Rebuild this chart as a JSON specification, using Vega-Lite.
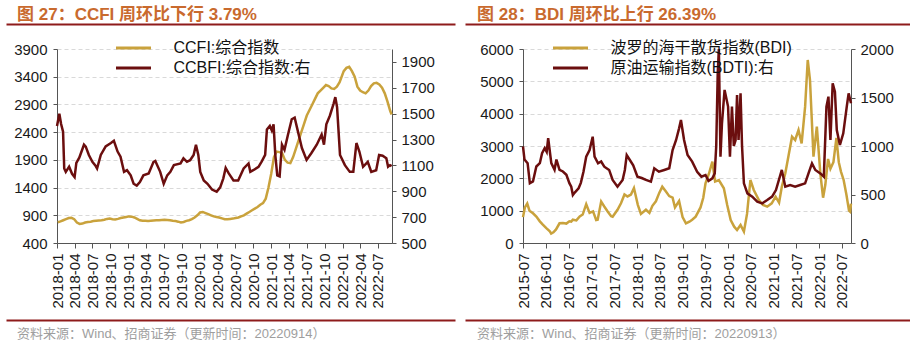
{
  "$schema": "https://vega.github.io/schema/vega-lite/v6.json",
  "background": "white",
  "padding": {"left": 6, "top": 6, "right": 0, "bottom": 0},
  "spacing": -41,
  "resolve": {"scale": {"color": "independent"}, "legend": {"color": "independent"}},
  "hconcat": [
    {
      "spacing": 8,
      "resolve": {"scale": {"color": "independent", "x": "independent"}, "legend": {"color": "independent"}},
      "vconcat": [
        {
          "width": 398, "height": 8,
          "title": {"text": "图 27：CCFI 周环比下行 3.79%", "anchor": "start", "frame": "bounds", "dx": -40, "fontSize": 17, "fontWeight": "bold", "color": "#C96A2E", "font": "Liberation Sans, Noto Sans CJK SC", "offset": 0},
          "data": {"values": [{"a": 0.5}]},
          "mark": {"type": "point", "opacity": 0},
          "encoding": {"x": {"field": "a", "type": "quantitative", "scale": {"domain": [0, 1], "range": [-51, 398]}, "axis": {"orient": "top", "domainColor": "#8E1B1B", "domainWidth": 2, "ticks": false, "labels": false, "grid": false, "title": null}}}
        },
        {
          "width": 335, "height": 194,
          "encoding": {
            "x": {"field": "d", "type": "temporal",
              "scale": {"type": "utc", "nice": false, "domain": [{"year": 2018, "month": 1, "date": 1, "utc": true}, {"year": 2022, "month": 9, "date": 11, "utc": true}]},
              "axis": {"format": "%Y-%m", "labelAngle": 270, "tickCount": {"interval": "month", "step": 3}, "grid": false, "title": null, "labelPadding": 5, "labelOverlap": false, "labelFlush": false}}
          },
          "layer": [
            {
              "data": {"values": [
                {"d":"2018-01-05","v":775},{"d":"2018-01-19","v":790},{"d":"2018-02-02","v":810},{"d":"2018-02-16","v":830},{"d":"2018-03-02","v":850},{"d":"2018-03-16","v":855},{"d":"2018-03-30","v":830},{"d":"2018-04-13","v":770},{"d":"2018-04-27","v":745},{"d":"2018-05-11","v":750},{"d":"2018-05-25","v":770},{"d":"2018-06-08","v":780},{"d":"2018-06-22","v":785},{"d":"2018-07-06","v":795},{"d":"2018-07-20","v":800},{"d":"2018-08-03","v":805},{"d":"2018-08-17","v":810},{"d":"2018-08-31","v":820},{"d":"2018-09-14","v":835},{"d":"2018-09-28","v":840},{"d":"2018-10-12","v":830},{"d":"2018-10-26","v":825},{"d":"2018-11-09","v":835},{"d":"2018-11-23","v":850},{"d":"2018-12-07","v":860},{"d":"2018-12-21","v":870},
                {"d":"2019-01-04","v":880},{"d":"2019-01-18","v":875},{"d":"2019-02-01","v":860},{"d":"2019-02-15","v":835},{"d":"2019-03-01","v":810},{"d":"2019-03-15","v":800},{"d":"2019-03-29","v":800},{"d":"2019-04-12","v":795},{"d":"2019-04-26","v":800},{"d":"2019-05-10","v":805},{"d":"2019-05-24","v":810},{"d":"2019-06-07","v":810},{"d":"2019-06-21","v":815},{"d":"2019-07-05","v":820},{"d":"2019-07-19","v":815},{"d":"2019-08-02","v":810},{"d":"2019-08-16","v":800},{"d":"2019-08-30","v":795},{"d":"2019-09-13","v":785},{"d":"2019-09-27","v":770},{"d":"2019-10-11","v":780},{"d":"2019-10-25","v":800},{"d":"2019-11-08","v":810},{"d":"2019-11-22","v":830},{"d":"2019-12-06","v":860},{"d":"2019-12-20","v":900},
                {"d":"2020-01-03","v":950},{"d":"2020-01-17","v":960},{"d":"2020-01-31","v":940},{"d":"2020-02-14","v":920},{"d":"2020-02-28","v":900},{"d":"2020-03-13","v":880},{"d":"2020-03-27","v":870},{"d":"2020-04-10","v":860},{"d":"2020-04-24","v":845},{"d":"2020-05-08","v":830},{"d":"2020-05-22","v":830},{"d":"2020-06-05","v":835},{"d":"2020-06-19","v":840},{"d":"2020-07-03","v":850},{"d":"2020-07-17","v":860},{"d":"2020-07-31","v":880},{"d":"2020-08-14","v":900},{"d":"2020-08-28","v":930},{"d":"2020-09-11","v":960},{"d":"2020-09-25","v":990},{"d":"2020-10-09","v":1020},{"d":"2020-10-23","v":1050},{"d":"2020-11-06","v":1090},{"d":"2020-11-20","v":1120},{"d":"2020-12-04","v":1200},{"d":"2020-12-18","v":1400},
                {"d":"2021-01-01","v":1650},{"d":"2021-01-15","v":1950},{"d":"2021-01-29","v":2050},{"d":"2021-02-12","v":2040},{"d":"2021-02-26","v":2020},{"d":"2021-03-12","v":1900},{"d":"2021-03-26","v":1850},{"d":"2021-04-09","v":1840},{"d":"2021-04-23","v":1950},{"d":"2021-05-07","v":2100},{"d":"2021-05-21","v":2250},{"d":"2021-06-04","v":2400},{"d":"2021-06-18","v":2550},{"d":"2021-07-02","v":2700},{"d":"2021-07-16","v":2800},{"d":"2021-07-30","v":2900},{"d":"2021-08-13","v":3000},{"d":"2021-08-27","v":3100},{"d":"2021-09-10","v":3150},{"d":"2021-09-24","v":3200},{"d":"2021-10-08","v":3250},{"d":"2021-10-22","v":3230},{"d":"2021-11-05","v":3190},{"d":"2021-11-19","v":3180},{"d":"2021-12-03","v":3220},{"d":"2021-12-17","v":3300},
                {"d":"2022-01-07","v":3500},{"d":"2022-01-21","v":3560},{"d":"2022-02-04","v":3580},{"d":"2022-02-18","v":3500},{"d":"2022-03-04","v":3400},{"d":"2022-03-18","v":3220},{"d":"2022-04-01","v":3150},{"d":"2022-04-15","v":3120},{"d":"2022-04-29","v":3100},{"d":"2022-05-13","v":3150},{"d":"2022-05-27","v":3230},{"d":"2022-06-10","v":3280},{"d":"2022-06-24","v":3290},{"d":"2022-07-08","v":3260},{"d":"2022-07-22","v":3200},{"d":"2022-08-05","v":3100},{"d":"2022-08-19","v":2950},{"d":"2022-09-02","v":2780},{"d":"2022-09-09","v":2720}
              ]},
              "mark": {"type": "line", "strokeWidth": 2.5},
              "encoding": {
                "y": {"field": "v", "type": "quantitative", "scale": {"domain": [400, 3900], "nice": false, "zero": false},
                  "axis": {"orient": "left", "format": "d", "values": [400, 900, 1400, 1900, 2400, 2900, 3400, 3900], "grid": true, "title": null, "minExtent": 51, "tickSize": 4, "labelPadding": 6}},
                "color": {"datum": "CCFI:综合指数", "type": "nominal",
                  "scale": {"domain": ["CCFI:综合指数", "CCBFI:综合指数:右"], "range": ["#C9A23C", "#6B0E0E"]},
                  "legend": {"orient": "none", "legendX": 56, "legendY": -9, "direction": "vertical", "title": null, "labelFontSize": 16, "labelFont": "Liberation Sans, Noto Sans CJK SC", "labelColor": "#111", "labelLimit": 300, "symbolType": "M-3.5,0H3.5", "symbolSize": 100, "symbolStrokeWidth": 3, "symbolOffset": 12.5, "labelOffset": 32, "rowPadding": 4, "padding": 0}}
              }
            },
            {
              "data": {"values": [
                {"d":"2018-01-01","v":1405},{"d":"2018-01-13","v":1500},{"d":"2018-01-22","v":1420},{"d":"2018-02-01","v":1360},{"d":"2018-02-07","v":1076},{"d":"2018-02-15","v":1050},{"d":"2018-03-04","v":1090},{"d":"2018-03-19","v":1035},{"d":"2018-04-01","v":1010},{"d":"2018-04-10","v":1120},{"d":"2018-04-25","v":1160},{"d":"2018-05-19","v":1260},{"d":"2018-05-28","v":1245},{"d":"2018-06-13","v":1180},{"d":"2018-07-01","v":1128},{"d":"2018-07-16","v":1100},{"d":"2018-07-25","v":1076},{"d":"2018-08-13","v":1181},{"d":"2018-09-07","v":1247},{"d":"2018-10-04","v":1273},{"d":"2018-10-19","v":1290},{"d":"2018-11-07","v":1207},{"d":"2018-11-22","v":1168},{"d":"2018-12-10","v":1050},{"d":"2018-12-25","v":1063},
                {"d":"2019-01-13","v":1023},{"d":"2019-01-28","v":958},{"d":"2019-02-13","v":944},{"d":"2019-03-01","v":971},{"d":"2019-03-19","v":1023},{"d":"2019-04-15","v":1037},{"d":"2019-05-10","v":1128},{"d":"2019-05-19","v":1135},{"d":"2019-06-13","v":1050},{"d":"2019-07-01","v":958},{"d":"2019-07-19","v":1023},{"d":"2019-08-04","v":1050},{"d":"2019-08-22","v":1102},{"d":"2019-09-25","v":1115},{"d":"2019-10-10","v":1155},{"d":"2019-10-28","v":1128},{"d":"2019-11-13","v":1140},{"d":"2019-12-01","v":1181},{"d":"2019-12-13","v":1260},{"d":"2019-12-25","v":1181},
                {"d":"2020-01-04","v":1050},{"d":"2020-01-22","v":984},{"d":"2020-02-10","v":958},{"d":"2020-03-04","v":913},{"d":"2020-03-28","v":897},{"d":"2020-04-15","v":930},{"d":"2020-05-01","v":1000},{"d":"2020-05-13","v":1080},{"d":"2020-05-28","v":1040},{"d":"2020-06-22","v":984},{"d":"2020-07-16","v":984},{"d":"2020-08-13","v":1076},{"d":"2020-09-07","v":1115},{"d":"2020-09-16","v":1050},{"d":"2020-10-01","v":1063},{"d":"2020-10-28","v":1089},{"d":"2020-11-13","v":1130},{"d":"2020-12-01","v":1181},{"d":"2020-12-10","v":1378},{"d":"2020-12-25","v":1405},
                {"d":"2021-01-04","v":1370},{"d":"2021-01-13","v":1418},{"d":"2021-01-22","v":1180},{"d":"2021-02-01","v":1023},{"d":"2021-02-13","v":1015},{"d":"2021-02-25","v":1260},{"d":"2021-03-10","v":1220},{"d":"2021-03-28","v":1339},{"d":"2021-04-16","v":1457},{"d":"2021-05-01","v":1470},{"d":"2021-05-13","v":1392},{"d":"2021-06-07","v":1234},{"d":"2021-07-01","v":1142},{"d":"2021-07-25","v":1194},{"d":"2021-08-22","v":1260},{"d":"2021-09-16","v":1339},{"d":"2021-09-28","v":1260},{"d":"2021-10-10","v":1418},{"d":"2021-10-28","v":1484},{"d":"2021-11-16","v":1576},{"d":"2021-11-25","v":1628},{"d":"2021-12-04","v":1550},{"d":"2021-12-19","v":1181},
                {"d":"2022-01-13","v":1102},{"d":"2022-02-07","v":1050},{"d":"2022-02-25","v":1050},{"d":"2022-03-13","v":1273},{"d":"2022-03-28","v":1207},{"d":"2022-04-16","v":1089},{"d":"2022-05-10","v":1128},{"d":"2022-05-28","v":1050},{"d":"2022-06-22","v":1063},{"d":"2022-07-07","v":1181},{"d":"2022-07-25","v":1175},{"d":"2022-08-13","v":1155},{"d":"2022-08-22","v":1090},{"d":"2022-09-01","v":1102},{"d":"2022-09-09","v":1095}
              ]},
              "mark": {"type": "line", "strokeWidth": 2.5},
              "encoding": {
                "y": {"field": "v", "type": "quantitative", "scale": {"domain": [500, 2000], "nice": false, "zero": false},
                  "axis": {"orient": "right", "format": "d", "values": [500, 700, 900, 1100, 1300, 1500, 1700, 1900], "grid": false, "title": null, "tickSize": 4, "labelPadding": 5}},
                "color": {"datum": "CCBFI:综合指数:右", "type": "nominal"}
              }
            }
          ],
          "resolve": {"scale": {"y": "independent"}}
        },
        {
          "width": 398, "height": 1,
          "title": {"text": "资料来源：Wind、招商证券（更新时间：20220914）", "orient": "bottom", "anchor": "start", "frame": "bounds", "dx": -40, "fontSize": 13, "fontWeight": "normal", "color": "#9E9E9E", "font": "Liberation Sans, Noto Sans CJK SC", "offset": 5},
          "data": {"values": [{"a": 0.5}]},
          "mark": {"type": "point", "opacity": 0},
          "encoding": {"x": {"field": "a", "type": "quantitative", "scale": {"domain": [0, 1], "range": [-51, 398]}, "axis": {"orient": "top", "domainColor": "#8E1B1B", "domainWidth": 2, "ticks": false, "labels": false, "grid": false, "title": null}}}
        }
      ]
    },
    {
      "spacing": 8,
      "resolve": {"scale": {"color": "independent", "x": "independent"}, "legend": {"color": "independent"}},
      "vconcat": [
        {
          "width": 387, "height": 8,
          "title": {"text": "图 28：BDI 周环比上行 26.39%", "anchor": "start", "frame": "bounds", "dx": -46, "fontSize": 17, "fontWeight": "bold", "color": "#C96A2E", "font": "Liberation Sans, Noto Sans CJK SC", "offset": 0},
          "data": {"values": [{"a": 0.5}]},
          "mark": {"type": "point", "opacity": 0},
          "encoding": {"x": {"field": "a", "type": "quantitative", "scale": {"domain": [0, 1], "range": [-58, 387]}, "axis": {"orient": "top", "domainColor": "#8E1B1B", "domainWidth": 2, "ticks": false, "labels": false, "grid": false, "title": null}}}
        },
        {
          "width": 328, "height": 194,
          "encoding": {
            "x": {"field": "d", "type": "temporal",
              "scale": {"type": "utc", "nice": false, "domain": [{"year": 2015, "month": 7, "date": 1, "utc": true}, {"year": 2022, "month": 9, "date": 13, "utc": true}]},
              "axis": {"format": "%Y-%m", "labelAngle": 270, "tickCount": {"interval": "month", "step": 6}, "grid": false, "title": null, "labelPadding": 5, "labelOverlap": false, "labelFlush": false}}
          },
          "layer": [
            {
              "data": {"values": [
                {"d":"2015-07-01","v":800},{"d":"2015-07-16","v":1100},{"d":"2015-08-04","v":1220},{"d":"2015-08-22","v":1000},{"d":"2015-09-19","v":920},{"d":"2015-10-16","v":820},{"d":"2015-11-13","v":670},{"d":"2015-12-07","v":570},{"d":"2016-01-04","v":460},{"d":"2016-02-01","v":360},{"d":"2016-02-12","v":290},{"d":"2016-03-01","v":330},{"d":"2016-03-22","v":420},{"d":"2016-04-19","v":610},{"d":"2016-05-16","v":620},{"d":"2016-06-13","v":600},{"d":"2016-07-07","v":670},{"d":"2016-07-22","v":660},{"d":"2016-08-04","v":720},{"d":"2016-09-01","v":700},{"d":"2016-09-28","v":820},{"d":"2016-10-22","v":880},{"d":"2016-11-19","v":1200},{"d":"2016-12-16","v":930},
                {"d":"2017-01-13","v":977},{"d":"2017-02-07","v":711},{"d":"2017-02-19","v":720},{"d":"2017-03-19","v":1280},{"d":"2017-04-13","v":1130},{"d":"2017-05-10","v":977},{"d":"2017-06-07","v":830},{"d":"2017-06-19","v":814},{"d":"2017-07-28","v":1029},{"d":"2017-08-25","v":1230},{"d":"2017-09-22","v":1500},{"d":"2017-10-16","v":1440},{"d":"2017-11-13","v":1500},{"d":"2017-12-07","v":1700},
                {"d":"2018-01-07","v":1180},{"d":"2018-02-01","v":900},{"d":"2018-03-13","v":1029},{"d":"2018-04-10","v":930},{"d":"2018-05-04","v":1150},{"d":"2018-06-01","v":1290},{"d":"2018-06-28","v":1550},{"d":"2018-07-22","v":1742},{"d":"2018-08-19","v":1600},{"d":"2018-09-16","v":1450},{"d":"2018-10-13","v":1400},{"d":"2018-11-01","v":1100},{"d":"2018-12-04","v":1300},
                {"d":"2019-01-01","v":800},{"d":"2019-01-28","v":610},{"d":"2019-02-25","v":660},{"d":"2019-03-19","v":720},{"d":"2019-04-16","v":814},{"d":"2019-05-25","v":1100},{"d":"2019-06-16","v":1400},{"d":"2019-07-04","v":1845},{"d":"2019-08-01","v":2150},{"d":"2019-08-28","v":2514},{"d":"2019-09-19","v":1900},{"d":"2019-10-19","v":1948},{"d":"2019-11-28","v":1691},{"d":"2019-12-25","v":1175},
                {"d":"2020-01-22","v":711},{"d":"2020-02-19","v":505},{"d":"2020-03-13","v":402},{"d":"2020-04-10","v":557},{"d":"2020-05-07","v":350},{"d":"2020-06-01","v":900},{"d":"2020-06-28","v":1948},{"d":"2020-07-25","v":1639},{"d":"2020-09-04","v":1330},{"d":"2020-10-07","v":1175},{"d":"2020-11-10","v":1123},{"d":"2020-12-16","v":1227},
                {"d":"2021-01-16","v":1433},{"d":"2021-02-13","v":1250},{"d":"2021-03-07","v":1742},{"d":"2021-04-04","v":2155},{"d":"2021-05-01","v":2722},{"d":"2021-05-28","v":3288},{"d":"2021-06-22","v":3185},{"d":"2021-07-19","v":3494},{"d":"2021-08-13","v":3082},{"d":"2021-09-10","v":4216},{"d":"2021-10-01","v":5660},{"d":"2021-10-19","v":5041},{"d":"2021-11-16","v":2670},{"d":"2021-12-13","v":3597},
                {"d":"2022-01-10","v":2155},{"d":"2022-02-01","v":1400},{"d":"2022-02-19","v":1800},{"d":"2022-03-13","v":2600},{"d":"2022-04-01","v":2300},{"d":"2022-04-25","v":2500},{"d":"2022-05-19","v":3250},{"d":"2022-06-07","v":2500},{"d":"2022-06-25","v":2200},{"d":"2022-07-16","v":1950},{"d":"2022-08-07","v":1500},{"d":"2022-08-28","v":1000},{"d":"2022-09-06","v":970},{"d":"2022-09-13","v":1220}
              ]},
              "mark": {"type": "line", "strokeWidth": 2.5},
              "encoding": {
                "y": {"field": "v", "type": "quantitative", "scale": {"domain": [0, 6000], "nice": false},
                  "axis": {"orient": "left", "format": "d", "values": [0, 1000, 2000, 3000, 4000, 5000, 6000], "grid": true, "title": null, "minExtent": 58, "tickSize": 4, "labelPadding": 6}},
                "color": {"datum": "波罗的海干散货指数(BDI)", "type": "nominal",
                  "scale": {"domain": ["波罗的海干散货指数(BDI)", "原油运输指数(BDTI):右"], "range": ["#C9A23C", "#6B0E0E"]},
                  "legend": {"orient": "none", "legendX": 27, "legendY": -9, "direction": "vertical", "title": null, "labelFontSize": 16, "labelFont": "Liberation Sans, Noto Sans CJK SC", "labelColor": "#111", "labelLimit": 300, "symbolType": "M-3.5,0H3.5", "symbolSize": 100, "symbolStrokeWidth": 3, "symbolOffset": 12.5, "labelOffset": 32, "rowPadding": 4, "padding": 0}}
              }
            },
            {
              "data": {"values": [
                {"d":"2015-07-01","v":995},{"d":"2015-07-13","v":860},{"d":"2015-08-07","v":823},{"d":"2015-08-25","v":617},{"d":"2015-09-19","v":635},{"d":"2015-10-16","v":789},{"d":"2015-11-13","v":823},{"d":"2015-12-01","v":926},{"d":"2015-12-22","v":978},{"d":"2016-01-07","v":940},{"d":"2016-01-19","v":1080},{"d":"2016-02-13","v":823},{"d":"2016-03-10","v":755},{"d":"2016-03-25","v":860},{"d":"2016-04-19","v":755},{"d":"2016-05-16","v":737},{"d":"2016-06-13","v":703},{"d":"2016-07-07","v":617},{"d":"2016-07-22","v":581},{"d":"2016-08-04","v":495},{"d":"2016-08-19","v":520},{"d":"2016-09-19","v":564},{"d":"2016-10-07","v":620},{"d":"2016-10-28","v":735},{"d":"2016-11-19","v":890},{"d":"2016-12-16","v":959},
                {"d":"2017-01-10","v":1096},{"d":"2017-01-25","v":890},{"d":"2017-02-22","v":821},{"d":"2017-03-19","v":840},{"d":"2017-04-13","v":787},{"d":"2017-05-22","v":753},{"d":"2017-06-19","v":650},{"d":"2017-07-28","v":581},{"d":"2017-09-07","v":650},{"d":"2017-09-25","v":753},{"d":"2017-10-10","v":907},{"d":"2017-11-04","v":856},{"d":"2017-12-01","v":800},
                {"d":"2018-01-04","v":684},{"d":"2018-02-07","v":670},{"d":"2018-03-13","v":650},{"d":"2018-04-22","v":632},{"d":"2018-05-19","v":770},{"d":"2018-06-25","v":735},{"d":"2018-08-07","v":753},{"d":"2018-09-16","v":770},{"d":"2018-10-13","v":959},{"d":"2018-11-10","v":1062},{"d":"2018-12-04","v":1182},{"d":"2018-12-19","v":1268},
                {"d":"2019-01-13","v":1062},{"d":"2019-02-10","v":907},{"d":"2019-03-19","v":839},{"d":"2019-04-28","v":735},{"d":"2019-06-01","v":684},{"d":"2019-07-04","v":701},{"d":"2019-07-28","v":640},{"d":"2019-08-28","v":667},{"d":"2019-09-16","v":718},{"d":"2019-09-28","v":1000},{"d":"2019-10-10","v":1750},{"d":"2019-10-19","v":2000},{"d":"2019-11-01","v":890},{"d":"2019-11-13","v":1234},{"d":"2019-12-04","v":1578},
                {"d":"2020-01-01","v":1406},{"d":"2020-01-16","v":890},{"d":"2020-02-01","v":1406},{"d":"2020-02-16","v":1000},{"d":"2020-03-01","v":1060},{"d":"2020-03-13","v":1526},{"d":"2020-03-25","v":1062},{"d":"2020-04-10","v":1543},{"d":"2020-04-22","v":1000},{"d":"2020-05-07","v":615},{"d":"2020-06-04","v":512},{"d":"2020-07-13","v":478},{"d":"2020-08-22","v":426},{"d":"2020-10-01","v":409},{"d":"2020-11-10","v":443},{"d":"2020-12-19","v":478},
                {"d":"2021-01-19","v":546},{"d":"2021-03-07","v":753},{"d":"2021-04-04","v":581},{"d":"2021-05-13","v":598},{"d":"2021-06-22","v":581},{"d":"2021-08-01","v":598},{"d":"2021-09-10","v":615},{"d":"2021-10-07","v":718},{"d":"2021-11-04","v":821},{"d":"2021-12-01","v":753},
                {"d":"2022-01-10","v":718},{"d":"2022-02-07","v":684},{"d":"2022-02-28","v":1406},{"d":"2022-03-16","v":1509},{"d":"2022-04-01","v":1062},{"d":"2022-04-19","v":1646},{"d":"2022-05-07","v":1560},{"d":"2022-05-22","v":1165},{"d":"2022-06-16","v":1010},{"d":"2022-07-13","v":1131},{"d":"2022-08-10","v":1406},{"d":"2022-08-25","v":1543},{"d":"2022-09-13","v":1440}
              ]},
              "mark": {"type": "line", "strokeWidth": 2.5},
              "encoding": {
                "y": {"field": "v", "type": "quantitative", "scale": {"domain": [0, 2000], "nice": false},
                  "axis": {"orient": "right", "format": "d", "values": [0, 500, 1000, 1500, 2000], "grid": false, "title": null, "tickSize": 4, "labelPadding": 5}},
                "color": {"datum": "原油运输指数(BDTI):右", "type": "nominal"}
              }
            }
          ],
          "resolve": {"scale": {"y": "independent"}}
        },
        {
          "width": 387, "height": 1,
          "title": {"text": "资料来源：Wind、招商证券（更新时间：20220913）", "orient": "bottom", "anchor": "start", "frame": "bounds", "dx": -46, "fontSize": 13, "fontWeight": "normal", "color": "#9E9E9E", "font": "Liberation Sans, Noto Sans CJK SC", "offset": 5},
          "data": {"values": [{"a": 0.5}]},
          "mark": {"type": "point", "opacity": 0},
          "encoding": {"x": {"field": "a", "type": "quantitative", "scale": {"domain": [0, 1], "range": [-58, 387]}, "axis": {"orient": "top", "domainColor": "#8E1B1B", "domainWidth": 2, "ticks": false, "labels": false, "grid": false, "title": null}}}
        }
      ]
    }
  ],
  "config": {
    "view": {"stroke": null},
    "font": "Liberation Sans, Noto Sans CJK SC",
    "axis": {"labelFont": "Liberation Sans", "labelFontSize": 15, "labelColor": "#1a1a1a", "domainColor": "#555555", "tickColor": "#555555", "tickSize": 5, "gridColor": "#D9D9D9", "gridDash": [4, 3]}
  }
}
